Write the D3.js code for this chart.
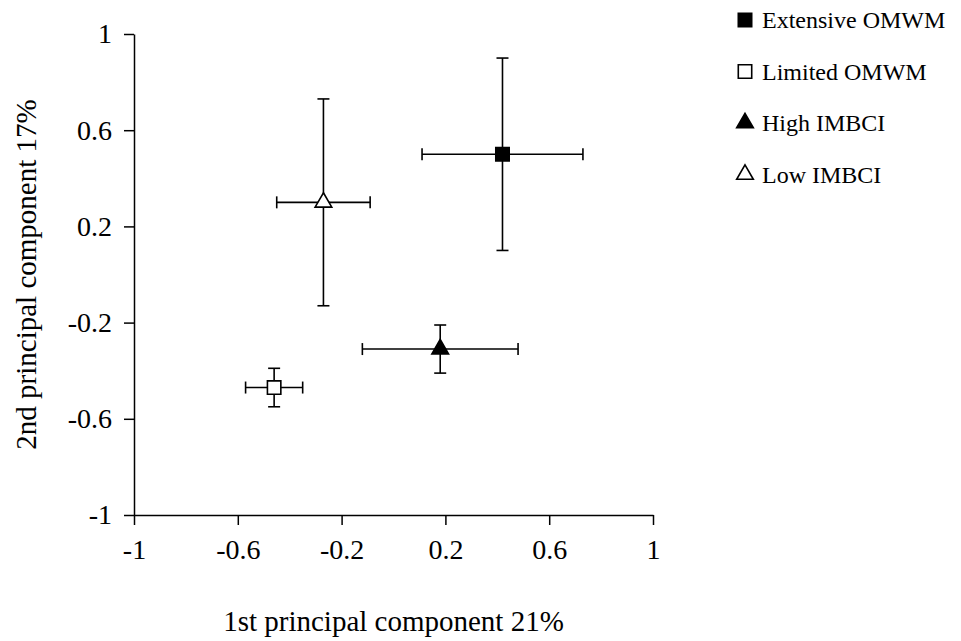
<!DOCTYPE html>
<html>
<head>
<meta charset="utf-8">
<script src="https://cdn.jsdelivr.net/npm/d3@7"></script>
<style>
  body { margin: 0; background: #fff; }
</style>
</head>
<body>
<div id="chart"></div>
<script>
// data
const groups = ['Extensive OMWM', 'Limited OMWM', 'High IMBCI', 'Low IMBCI'];
const pc1 = [0.42, -0.46, 0.18, -0.27];
const pc2 = [0.50, -0.47, -0.31, 0.30];
const pc1Err = [0.31, 0.11, 0.30, 0.18];
const pc2Err = [0.40, 0.08, 0.10, 0.43];
const shapes = ['square', 'square', 'triangle', 'triangle'];
const fills = ['#000', '#fff', '#000', '#fff'];
const tickValues = [-1, -0.6, -0.2, 0.2, 0.6, 1];

const width = 961, height = 641;
const cap = 6;
const serif = "'Liberation Serif'";

const svg = d3.select('#chart')
  .append('svg')
  .attr('width', width)
  .attr('height', height);

svg.append('rect')
  .attr('width', width)
  .attr('height', height)
  .attr('fill', '#fff');

const x = d3.scaleLinear().domain([-1, 1]).range([134, 653]);
const y = d3.scaleLinear().domain([-1, 1]).range([515, 34]);

const fmt = d => String(d);

const xAxis = svg.append('g')
  .attr('transform', `translate(0, ${y(-1)})`)
  .call(d3.axisBottom(x).tickValues(tickValues).tickFormat(fmt).tickSize(10).tickPadding(14).tickSizeOuter(0));

const yAxis = svg.append('g')
  .attr('transform', `translate(${x(-1)}, 0)`)
  .call(d3.axisLeft(y).tickValues(tickValues).tickFormat(fmt).tickSize(10).tickPadding(12).tickSizeOuter(0));

[xAxis, yAxis].forEach(g => {
  g.attr('font-family', null);
  g.selectAll('path, line').attr('stroke', '#000').attr('stroke-width', 1.5);
  g.selectAll('text').attr('font-size', 28).style('font-family', serif).attr('fill', '#000');
});

svg.append('text')
  .attr('x', (x(-1) + x(1)) / 2)
  .attr('y', 631)
  .attr('text-anchor', 'middle')
  .attr('font-size', 29)
  .style('font-family', serif)
  .text('1st principal component 21%');

svg.append('text')
  .attr('transform', `translate(36, ${(y(-1) + y(1)) / 2}) rotate(-90)`)
  .attr('text-anchor', 'middle')
  .attr('font-size', 29)
  .style('font-family', serif)
  .text('2nd principal component 17%');

const idx = d3.range(groups.length);

// error bars
const bars = svg.append('g')
  .attr('stroke', '#000')
  .attr('stroke-width', 1.6)
  .attr('fill', 'none');

idx.forEach(i => {
  const x0 = x(pc1[i] - pc1Err[i]), x1 = x(pc1[i] + pc1Err[i]);
  const y0 = y(pc2[i] - pc2Err[i]), y1 = y(pc2[i] + pc2Err[i]);
  const cx = x(pc1[i]), cy = y(pc2[i]);
  bars.append('line').attr('x1', x0).attr('x2', x1).attr('y1', cy).attr('y2', cy);
  bars.append('line').attr('x1', x0).attr('x2', x0).attr('y1', cy - cap).attr('y2', cy + cap);
  bars.append('line').attr('x1', x1).attr('x2', x1).attr('y1', cy - cap).attr('y2', cy + cap);
  bars.append('line').attr('x1', cx).attr('x2', cx).attr('y1', y0).attr('y2', y1);
  bars.append('line').attr('x1', cx - cap).attr('x2', cx + cap).attr('y1', y0).attr('y2', y0);
  bars.append('line').attr('x1', cx - cap).attr('x2', cx + cap).attr('y1', y1).attr('y2', y1);
});

const symbolFor = s => d3.symbol()
  .type(s === 'square' ? d3.symbolSquare : d3.symbolTriangle)
  .size(s === 'square' ? 180 : 120)();

svg.append('g')
  .selectAll('path')
  .data(idx)
  .enter()
  .append('path')
  .attr('d', i => symbolFor(shapes[i]))
  .attr('transform', i => `translate(${x(pc1[i])}, ${y(pc2[i])})`)
  .attr('fill', i => fills[i])
  .attr('stroke', '#000')
  .attr('stroke-width', 1.6);

// legend
const legend = svg.append('g')
  .selectAll('g')
  .data(idx)
  .enter()
  .append('g')
  .attr('transform', i => `translate(745, ${20 + i * 51.5})`);

legend.append('path')
  .attr('d', i => symbolFor(shapes[i]))
  .attr('fill', i => fills[i])
  .attr('stroke', '#000')
  .attr('stroke-width', 1.6);

legend.append('text')
  .attr('x', 17)
  .attr('y', 8)
  .attr('font-size', 24)
  .style('font-family', serif)
  .text(i => groups[i]);
</script>
</body>
</html>
